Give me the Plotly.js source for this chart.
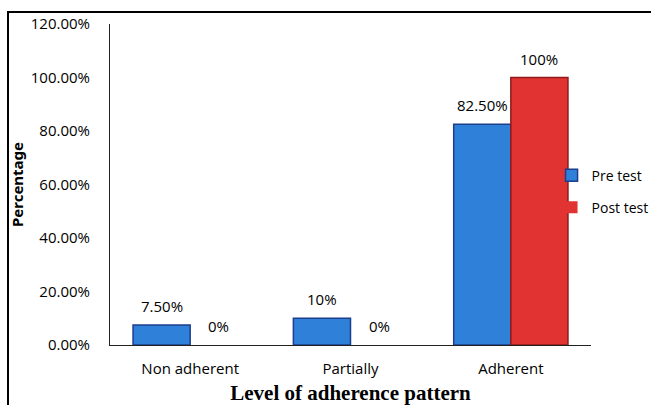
<!DOCTYPE html>
<html>
<head>
<meta charset="utf-8">
<script src="https://cdn.plot.ly/plotly-3.0.1.min.js"></script>
<style>
html,body{margin:0;padding:0;background:#fff;overflow:hidden;width:651px;height:405px;}
#wrap{position:relative;width:651px;height:405px;overflow:hidden;}
#chart{width:700px;height:405px;}
#frame{position:absolute;left:7px;top:11px;width:700px;height:500px;border-left:2px solid #000;border-top:2px solid #000;pointer-events:none;}
</style>
</head>
<body>
<div id="wrap"><div id="chart"></div><div id="frame"></div></div>
<script>
const categories = ["Non adherent", "Partially", "Adherent"];
const preTest = [0.075, 0.10, 0.825];
const postTest = [0, 0, 1.0];
const preLabels = ["7.50%", "10%", "82.50%"];
const postLabels = ["0%", "0%", "100%"];
const yTickVals = [0, 0.2, 0.4, 0.6, 0.8, 1.0, 1.2];
const yTickText = ["0.00%", "20.00%", "40.00%", "60.00%", "80.00%", "100.00%", "120.00%"];

const font = "Open Sans, sans-serif";
const bargap = 0.2875;
const half = (1 - bargap) / 4; // offset of each bar centre from the category centre

const borderCol = (v, c) => v.map(d => d > 0 ? c : "rgba(0,0,0,0)");
const traces = [
  {
    type: "bar", name: "Pre test", x: categories, y: preTest, legendgroup: "pre",
    marker: {color: "#2F80D9", line: {color: borderCol(preTest, "#1C3E8C"), width: 1.5}},
    hoverinfo: "none"
  },
  {
    type: "bar", name: "Post test", x: categories, y: postTest, legendgroup: "post",
    marker: {color: "#E03332", line: {color: borderCol(postTest, "#8E1B1B"), width: 1.5}},
    hoverinfo: "none"
  }
];

const labelFont = {family: font, size: 15, color: "#000"};
const annotations = [];
categories.forEach((c, i) => {
  annotations.push({x: i - half, y: preTest[i], xref: "x", yref: "y", text: preLabels[i],
    showarrow: false, yanchor: "middle", yshift: 19, font: labelFont});
  annotations.push({x: i + half, y: postTest[i], xref: "x", yref: "y", text: postLabels[i],
    showarrow: false, yanchor: "middle", yshift: 19, font: labelFont});
});

const layout = {
  width: 700, height: 405,
  margin: {l: 110, r: 109, t: 24, b: 60},
  paper_bgcolor: "#fff", plot_bgcolor: "#fff",
  barmode: "group", bargap: bargap, bargroupgap: 0,
  showlegend: true,
  annotations: annotations,
  legend: {x: 0.918, xanchor: "left", y: 0.478, yanchor: "middle",
    font: {family: font, size: 14, color: "#000"}, tracegroupgap: 11,
    itemwidth: 30, bgcolor: "rgba(0,0,0,0)"},
  xaxis: {
    showline: true, linecolor: "#222", linewidth: 1,
    ticks: "", ticklabelstandoff: 10, tickfont: {family: font, size: 15, color: "#000"},
    title: {text: "Level of adherence pattern", standoff: 9,
      font: {family: "Liberation Serif, serif", size: 21, color: "#000", weight: "bold"}},
    fixedrange: true
  },
  yaxis: {
    range: [0, 1.2], tickvals: yTickVals, ticktext: yTickText,
    showline: true, linecolor: "#222", linewidth: 1, showgrid: false, zeroline: false,
    ticks: "", ticklabelstandoff: 16, tickfont: {family: font, size: 15, color: "#000"},
    title: {text: "Percentage", standoff: 3,
      font: {family: "Noto Sans, DejaVu Sans, sans-serif", size: 15, color: "#000", weight: "bold"}},
    fixedrange: true
  }
};

Plotly.newPlot("chart", traces, layout, {displayModeBar: false, staticPlot: true});
</script>
</body>
</html>
